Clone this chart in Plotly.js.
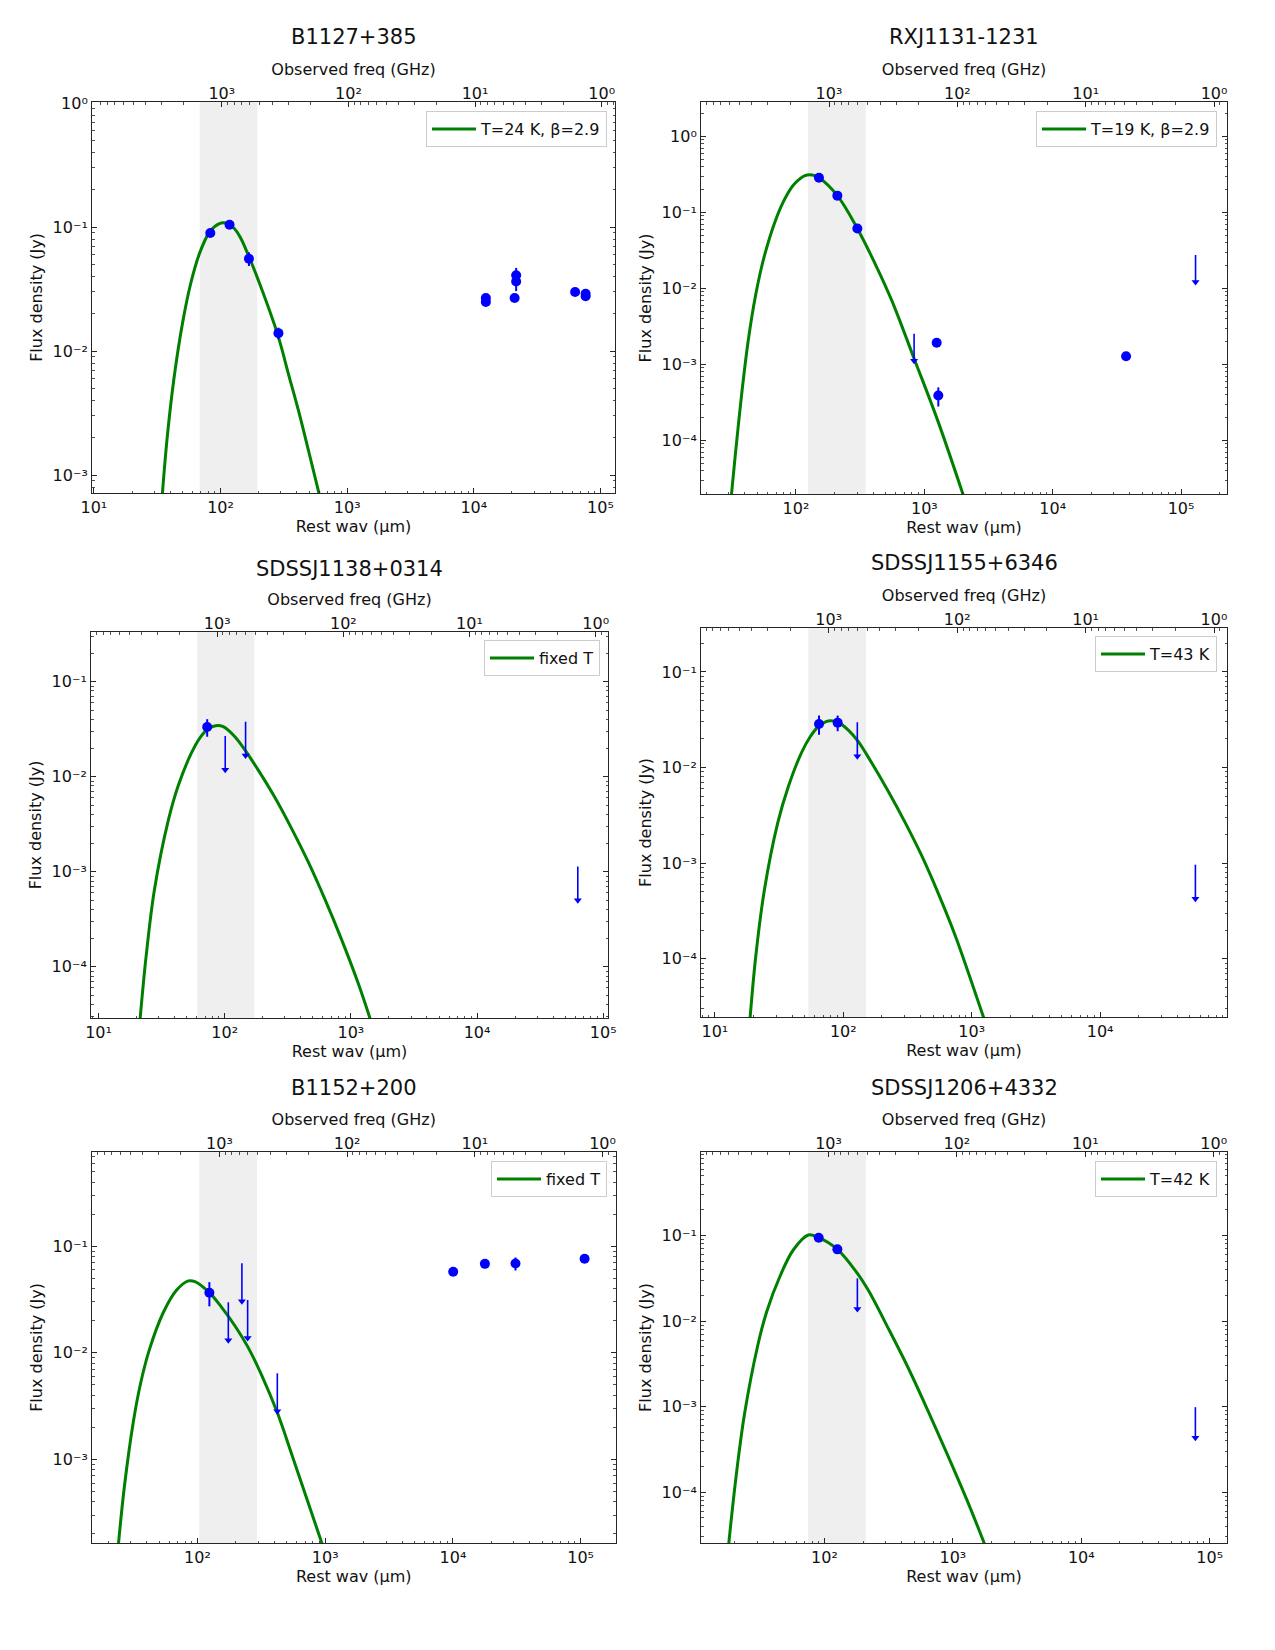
<!DOCTYPE html>
<html>
<head>
<meta charset="utf-8">
<script src="https://cdn.plot.ly/plotly-3.0.1.min.js"></script>
<style>
  html, body { margin: 0; padding: 0; background: #ffffff; }
  #chart { width: 1275px; height: 1650px; }
</style>
</head>
<body>
<div id="chart"></div>
<script>
// Far-IR to radio SEDs of six lensed quasars: rest wavelength (um) vs flux density (Jy),
// with the dust fit (green), detections (blue dots) and upper limits (arrows).

const SOURCES    = ['B1127+385', 'RXJ1131-1231', 'SDSSJ1138+0314', 'SDSSJ1155+6346', 'B1152+200', 'SDSSJ1206+4332'];
const FIT_LABELS = ['T=24 K, β=2.9', 'T=19 K, β=2.9', 'fixed T', 'T=43 K', 'fixed T', 'T=42 K'];
const REDSHIFTS  = [1.93, 0.658, 2.44, 2.89, 1.019, 1.79];

// ---- B1127+385 ----
const B1127_FIT_WAV  = [34.5, 37.9, 42.9, 49.9, 58.0, 68.7, 82.4, 97.0, 109.5, 127.3, 143.8, 165.2, 206.6, 283.2, 345.6, 414.7, 497.6, 610];
const B1127_FIT_FLUX = [6.46e-4, 2.0e-3, 6.03e-3, 0.0164, 0.0347, 0.0624, 0.0920, 0.1062, 0.1079, 0.0982, 0.0820, 0.0597, 0.0336, 0.01349, 6.40e-3, 3.24e-3, 1.54e-3, 6.6e-4];
const B1127_WAV  = [83.0, 117.8, 167.6, 286.5, 12450, 12450, 21600, 21600, 21000, 63100, 76400, 76400];
const B1127_FLUX = [0.0895, 0.1044, 0.0555, 0.01393, 0.0268, 0.0249, 0.0408, 0.0364, 0.0268, 0.0299, 0.0290, 0.0276];
const B1127_ERR  = [0.003, 0.004, 0.007, 0.0015, 0.001, 0.001, 0.006, 0.006, 0.001, 0.001, 0.001, 0.001];
const B1127_LIM_WAV  = [];
const B1127_LIM_FLUX = [];
const B1127_BAND = [68.5, 195];

// ---- RXJ1131-1231 ----
const RXJ1131_FIT_WAV  = [30.6, 33.5, 37.8, 42.5, 48.5, 56.6, 70.6, 83.5, 98.2, 117.5, 134.0, 150.2, 210, 300.6, 412.7, 557, 836, 1270, 2030];
const RXJ1131_FIT_FLUX = [1.23e-5, 5.89e-5, 4.17e-4, 2.09e-3, 8.22e-3, 0.0265, 0.0861, 0.1614, 0.242, 0.306, 0.312, 0.288, 0.1667, 0.0617, 0.0213, 6.98e-3, 1.175e-3, 1.84e-4, 1.82e-5];
const RXJ1131_WAV  = [151, 210, 300.6, 1248, 1285, 37300];
const RXJ1131_FLUX = [0.287, 0.1667, 0.0617, 0.00193, 0.00039, 0.001285];
const RXJ1131_ERR  = [0.01, 0.006, 0.003, 0.00008, 0.00011, 0.00005];
const RXJ1131_LIM_WAV  = [832, 129700];
const RXJ1131_LIM_FLUX = [0.00254, 0.0276];
const RXJ1131_BAND = [124, 349];

// ---- SDSSJ1138+0314 ----
const J1138_FIT_WAV  = [21.3, 23.8, 27.7, 35.7, 42.9, 54.0, 63.6, 74.1, 84.7, 97.3, 120.4, 146.3, 184.4, 250, 339, 459, 622, 844, 1143, 1432];
const J1138_FIT_FLUX = [2.75e-5, 1.28e-4, 6.43e-4, 3.47e-3, 8.13e-3, 0.0174, 0.0257, 0.0320, 0.0345, 0.0337, 0.0264, 0.0187, 0.01175, 6.05e-3, 2.85e-3, 1.27e-3, 5.15e-4, 1.93e-4, 6.7e-5, 2.75e-5];
const J1138_WAV  = [72.6];
const J1138_FLUX = [0.0334];
const J1138_ERR  = [0.007];
const J1138_LIM_WAV  = [100.9, 146.3, 62900];
const J1138_LIM_FLUX = [0.0269, 0.0380, 0.00114];
const J1138_BAND = [60.5, 171.6];

// ---- SDSSJ1155+6346 ----
const J1155_FIT_WAV  = [18.7, 20.8, 24.3, 30.8, 37.3, 47.4, 55.1, 64.0, 76.4, 90.4, 109.4, 131, 166.3, 224.4, 302.7, 408, 549, 741, 970, 1270];
const J1155_FIT_FLUX = [2.2e-5, 1.05e-4, 5.25e-4, 2.61e-3, 6.31e-3, 0.01445, 0.0209, 0.0269, 0.0307, 0.0298, 0.0247, 0.0187, 0.01122, 5.62e-3, 2.67e-3, 1.197e-3, 4.83e-4, 1.774e-4, 6.38e-5, 2.2e-5];
const J1155_WAV  = [64.7, 90.4];
const J1155_FLUX = [0.0286, 0.0295];
const J1155_ERR  = [0.0065, 0.0055];
const J1155_LIM_WAV  = [128.6, 55200];
const J1155_LIM_FLUX = [0.0298, 0.000964];
const J1155_BAND = [53.4, 150.2];

// ---- B1152+200 ----
const B1152_FIT_WAV  = [23.6, 26.7, 31.5, 35.9, 42.0, 54.0, 68.7, 84.8, 95.5, 123.9, 154.6, 196.8, 247.2, 317.7, 421.6, 545.8, 715.6, 961];
const B1152_FIT_FLUX = [1.26e-4, 5.41e-4, 2.28e-3, 5.21e-3, 0.01072, 0.0239, 0.0388, 0.0473, 0.0466, 0.0367, 0.0267, 0.01786, 0.01143, 6.19e-3, 2.75e-3, 1.125e-3, 4.32e-4, 1.52e-4];
const B1152_WAV  = [123.9, 10050, 17800, 30900, 107400];
const B1152_FLUX = [0.0367, 0.0577, 0.0684, 0.0689, 0.0765];
const B1152_ERR  = [0.0094, 0.0015, 0.0015, 0.0095, 0.0015];
const B1152_LIM_WAV  = [174.3, 222.7, 247, 421.7];
const B1152_LIM_FLUX = [0.0298, 0.0692, 0.0313, 0.00643];
const B1152_BAND = [103.3, 292.5];

// ---- SDSSJ1206+4332 ----
const J1206_FIT_WAV  = [17.8, 20.3, 23.8, 30.2, 35.5, 45.0, 57.1, 74.8, 90.1, 126, 180.3, 219.5, 314, 450, 644, 921, 1319, 1778];
const J1206_FIT_FLUX = [2.19e-5, 1.365e-4, 8.13e-4, 5.19e-3, 0.01297, 0.0335, 0.0679, 0.1016, 0.0946, 0.0691, 0.0362, 0.0229, 8.22e-3, 2.81e-3, 8.73e-4, 2.60e-4, 7.40e-5, 2.4e-5];
const J1206_WAV  = [90.1, 126];
const J1206_FLUX = [0.0946, 0.0691];
const J1206_ERR  = [0.003, 0.002];
const J1206_LIM_WAV  = [180.3, 77400];
const J1206_LIM_FLUX = [0.0316, 0.000986];
const J1206_BAND = [74.4, 209.6];

// Decade tick labels
const DECADE_VALS = [1e-6, 1e-5, 1e-4, 1e-3, 1e-2, 1e-1, 1e0, 1e1, 1e2, 1e3, 1e4, 1e5];
const DECADE_TEXT = ['10⁻⁶', '10⁻⁵', '10⁻⁴', '10⁻³', '10⁻²', '10⁻¹', '10⁰', '10¹', '10²', '10³', '10⁴', '10⁵'];
const FREQ_TICK_VALS = [1, 10, 100, 1000];
const FREQ_TICK_TEXT = ['10⁰', '10¹', '10²', '10³'];

// ---------------- layout geometry (page pixels) ----------------
const W = 1275, H = 1650;
const C_UM_GHZ = 2.998e5;      // c in um * GHz
const ARROW_DROP = 0.44;       // length of an upper-limit arrow, as a flux ratio

// plot frames: [left, right, top, bottom]
const FRAMES = [[92, 615, 102, 493], [701, 1227, 102, 494],
                [91, 608, 632, 1018], [701, 1227, 628, 1017],
                [92, 615.5, 1152, 1543], [701, 1227, 1152, 1543]];
const TITLE_Y = [37, 37, 569, 563, 1087.5, 1087.5];
const LEGEND_POS = [[607, 111], [1217, 111], [600, 640], [1217, 636], [607, 1161], [1217, 1161]];
const X_RANGES = [[0.985, 5.115], [1.260, 5.358], [0.940, 5.038], [0.892, 4.988], [1.174, 5.273], [1.038, 5.135]];
const Y_RANGES = [[-3.145, 0.008], [-4.704, 0.454], [-4.539, -0.476], [-4.609, -0.540], [-3.785, -0.115], [-4.595, -0.022]];

const PANELS = [
  {fitWav: B1127_FIT_WAV, fitFlux: B1127_FIT_FLUX, wav: B1127_WAV, flux: B1127_FLUX, err: B1127_ERR, limWav: B1127_LIM_WAV, limFlux: B1127_LIM_FLUX, band: B1127_BAND},
  {fitWav: RXJ1131_FIT_WAV, fitFlux: RXJ1131_FIT_FLUX, wav: RXJ1131_WAV, flux: RXJ1131_FLUX, err: RXJ1131_ERR, limWav: RXJ1131_LIM_WAV, limFlux: RXJ1131_LIM_FLUX, band: RXJ1131_BAND},
  {fitWav: J1138_FIT_WAV, fitFlux: J1138_FIT_FLUX, wav: J1138_WAV, flux: J1138_FLUX, err: J1138_ERR, limWav: J1138_LIM_WAV, limFlux: J1138_LIM_FLUX, band: J1138_BAND},
  {fitWav: J1155_FIT_WAV, fitFlux: J1155_FIT_FLUX, wav: J1155_WAV, flux: J1155_FLUX, err: J1155_ERR, limWav: J1155_LIM_WAV, limFlux: J1155_LIM_FLUX, band: J1155_BAND},
  {fitWav: B1152_FIT_WAV, fitFlux: B1152_FIT_FLUX, wav: B1152_WAV, flux: B1152_FLUX, err: B1152_ERR, limWav: B1152_LIM_WAV, limFlux: B1152_LIM_FLUX, band: B1152_BAND},
  {fitWav: J1206_FIT_WAV, fitFlux: J1206_FIT_FLUX, wav: J1206_WAV, flux: J1206_FLUX, err: J1206_ERR, limWav: J1206_LIM_WAV, limFlux: J1206_LIM_FLUX, band: J1206_BAND}
];

// minor ticks at 2..9 x 10^n
const MINOR_ALL = [];
for (let e = -6; e <= 5; e++) {
  for (let d = 2; d <= 9; d++) MINOR_ALL.push(d * Math.pow(10, e));
}

// keep only ticks that fall inside a log-range
function inRange(vals, range) {
  const lo = Math.min(range[0], range[1]) - 1e-6, hi = Math.max(range[0], range[1]) + 1e-6;
  return vals.map((v, k) => k).filter(k => {
    const lv = Math.log10(vals[k]);
    return lv >= lo && lv <= hi;
  });
}
function ticksFor(vals, text, range) {
  const idx = inRange(vals, range);
  return {tickvals: idx.map(k => vals[k]), ticktext: idx.map(k => text[k])};
}
function minorFor(range) {
  return inRange(MINOR_ALL, range).map(k => MINOR_ALL[k]);
}

const FONT = 'DejaVu Sans, Verdana, sans-serif';
const AXC = '#262626';
const TXT = '#111111';
const BLUE = '#0000ff';
const GREEN = '#008000';

function baseAxis(range, extra) {
  return Object.assign({
    type: 'log', range: range,
    showline: true, linecolor: AXC, linewidth: 1,
    ticks: 'inside', ticklen: 5, tickwidth: 1, tickcolor: AXC,
    minor: {ticks: 'inside', ticklen: 2.5, tickwidth: 0.8, tickcolor: AXC,
            tickmode: 'array', tickvals: minorFor(range), showgrid: false},
    showgrid: false, zeroline: false,
    tickfont: {family: FONT, size: 16, color: TXT},
    automargin: false
  }, extra);
}

const traces = [];
const layout = {
  width: W, height: H,
  margin: {l: 0, r: 0, t: 0, b: 0},
  paper_bgcolor: '#ffffff', plot_bgcolor: '#ffffff',
  font: {family: FONT, color: TXT},
  showlegend: true,
  shapes: [], annotations: []
};

PANELS.forEach((p, i) => {
  const n = i + 1;
  const xbNum = 2 * n - 1, xtNum = 2 * n;
  const xbRef = xbNum === 1 ? 'x' : 'x' + xbNum;
  const xtRef = 'x' + xtNum;
  const yRef = n === 1 ? 'y' : 'y' + n;
  const xbKey = xbNum === 1 ? 'xaxis' : 'xaxis' + xbNum;
  const xtKey = 'xaxis' + xtNum;
  const yKey = n === 1 ? 'yaxis' : 'yaxis' + n;
  const legKey = n === 1 ? 'legend' : 'legend' + n;
  const [l, r, t, b] = FRAMES[i];
  const xr = X_RANGES[i], yr = Y_RANGES[i];
  const logK = Math.log10(C_UM_GHZ / (1 + REDSHIFTS[i]));
  const xtRange = [logK - xr[0], logK - xr[1]];

  layout[xbKey] = baseAxis(xr, Object.assign({
    domain: [l / W, r / W], anchor: yRef, tickmode: 'array',
    title: {text: 'Rest wav (μm)', font: {family: FONT, size: 16, color: TXT}, standoff: 4}
  }, ticksFor(DECADE_VALS, DECADE_TEXT, xr)));

  layout[xtKey] = baseAxis(xtRange, Object.assign({
    overlaying: xbRef, side: 'top', anchor: yRef, tickmode: 'array', ticklabelstandoff: -4,
    title: {text: 'Observed freq (GHz)', font: {family: FONT, size: 16, color: TXT}, standoff: 3}
  }, ticksFor(FREQ_TICK_VALS, FREQ_TICK_TEXT, xtRange)));

  layout[yKey] = baseAxis(yr, Object.assign({
    domain: [1 - b / H, 1 - t / H], anchor: xbRef, mirror: 'ticks', tickmode: 'array',
    title: {text: 'Flux density (Jy)', font: {family: FONT, size: 16, color: TXT}, standoff: 5}
  }, ticksFor(DECADE_VALS, DECADE_TEXT, yr)));

  layout[legKey] = {
    x: LEGEND_POS[i][0] / W, y: 1 - LEGEND_POS[i][1] / H, xanchor: 'right', yanchor: 'top',
    bgcolor: 'rgba(255,255,255,0.85)', bordercolor: '#cccccc', borderwidth: 1,
    font: {family: FONT, size: 16, color: TXT}, itemwidth: 44
  };

  // observed-band shading
  layout.shapes.push({
    type: 'rect', layer: 'below', xref: xbRef, yref: yRef + ' domain',
    x0: p.band[0], x1: p.band[1], y0: 0, y1: 1,
    fillcolor: '#efefef', line: {width: 0}
  });

  layout.annotations.push({
    text: SOURCES[i], xref: 'paper', yref: 'paper',
    x: (l + r) / 2 / W, y: 1 - TITLE_Y[i] / H, xanchor: 'center', yanchor: 'middle',
    showarrow: false, font: {family: FONT, size: 21, color: TXT}
  });

  // carrier for the observed-frequency axis (no visible marks)
  traces.push({
    type: 'scatter', mode: 'markers', x: FREQ_TICK_VALS, y: FREQ_TICK_VALS.map(() => null),
    xaxis: xtRef, yaxis: yRef, marker: {opacity: 0}, showlegend: false, hoverinfo: 'skip', legend: legKey
  });

  // dust fit
  traces.push({
    type: 'scatter', mode: 'lines', x: p.fitWav, y: p.fitFlux,
    xaxis: xbRef, yaxis: yRef, name: FIT_LABELS[i], legend: legKey,
    line: {color: GREEN, width: 3, shape: 'spline', smoothing: 1.0},
    hoverinfo: 'skip'
  });

  // upper limits: a stem down from the limit with a head at its end
  if (p.limWav.length) {
    const sx = [], sy = [], hx = [], hy = [];
    p.limWav.forEach((w, k) => {
      const top = p.limFlux[k], low = top * ARROW_DROP;
      sx.push(w, w, null); sy.push(top, low, null);
      hx.push(w); hy.push(low);
    });
    traces.push({
      type: 'scatter', mode: 'lines', x: sx, y: sy, xaxis: xbRef, yaxis: yRef,
      line: {color: BLUE, width: 1.6}, showlegend: false, hoverinfo: 'skip', legend: legKey
    });
    traces.push({
      type: 'scatter', mode: 'markers', x: hx, y: hy, xaxis: xbRef, yaxis: yRef,
      marker: {symbol: 'triangle-down', size: 7, color: BLUE, line: {width: 0}},
      showlegend: false, hoverinfo: 'skip', legend: legKey
    });
  }

  // detections
  traces.push({
    type: 'scatter', mode: 'markers', x: p.wav, y: p.flux, xaxis: xbRef, yaxis: yRef,
    marker: {symbol: 'circle', size: 10, color: BLUE, line: {width: 0}},
    error_y: {type: 'data', array: p.err, visible: true, color: BLUE, thickness: 2, width: 0},
    showlegend: false, hoverinfo: 'skip', legend: legKey
  });
});

Plotly.newPlot('chart', traces, layout, {displayModeBar: false, staticPlot: true});
</script>
</body>
</html>
